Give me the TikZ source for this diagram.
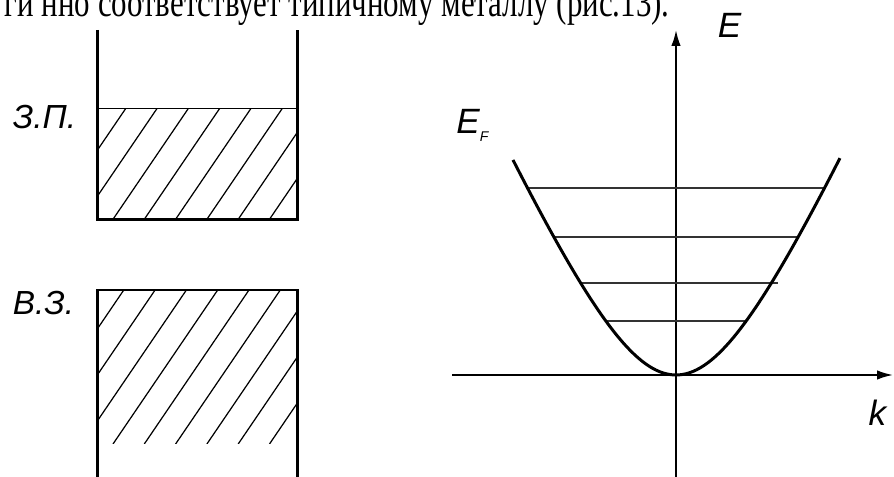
\documentclass[tikz,border=0pt]{standalone}
\usepackage{fontspec}
\setmainfont{Liberation Serif}
\setsansfont{Liberation Sans}
\usetikzlibrary{arrows.meta,calc}

\begin{document}
\begin{tikzpicture}[
    band/.style={line width=1.6pt},
    hatch/.style={line width=0.7pt},
    lvl/.style={line width=0.8pt,black!80},
    axis/.style={line width=1.1pt,-{Latex[length=0.32cm,width=0.19cm]}},
    lbl/.style={font=\fontsize{19}{22}\selectfont\sffamily\itshape,inner sep=0pt}]
    \useasboundingbox (0,0) rectangle (17.88,9.54);
    % line of text above, cut by the page edge
    \node[anchor=base east,inner sep=0pt,font=\fontsize{17.6}{20}\selectfont] (txt) at (13.4,9.2)
      {\scalebox{1}[1.35]{ги нно соответствует типичному металлу (рис.13).}};

    % conduction band
    \begin{scope}
      \clip (1.954,5.154) rectangle (5.954,7.366);
      \foreach \i in {-3,...,5}
        \draw[hatch] (2.26+0.626*\i,5.154) -- ++(1.504,2.212);
    \end{scope}
    \draw[line width=0.8pt] (1.954,7.366) -- (5.954,7.366);
    \draw[band] (1.954,8.94) -- (1.954,5.154) -- (5.954,5.154) -- (5.954,8.94);
    \node[lbl] (cb) at (0.89,7.19) {З.П.};

    % valence band
    \begin{scope}
      \clip (1.954,0.66) rectangle (5.954,3.74);
      \foreach \i in {-4,...,5}
        \draw[hatch] (2.26+0.626*\i,0.66) -- ++(2.094,3.08);
    \end{scope}
    \draw[band] (1.954,-0.1) -- (1.954,3.74) -- (5.954,3.74) -- (5.954,-0.1);
    \node[lbl] (vb) at (0.87,3.47) {В.З.};

    % E(k)
    \coordinate (O) at (13.52,2.04);
    \draw[axis] (9.04,2.04) -- (17.86,2.04);
    \draw[axis] (13.52,-0.1) -- (13.52,8.94);
    \foreach \e/\l/\r in {3.74/-2.94/2.96, 2.76/-2.42/2.44, 1.84/-1.92/2.04, 1.08/-1.38/1.42}
      \draw[lvl] ($(O)+(\l,\e)$) -- ($(O)+(\r,\e)$);
    \draw[line width=1.7pt] plot[domain=-3.26:3.28,samples=90]
      ({13.52+\x},{2.04+sqrt(16+4.977*(\x)^2)-4});
    \node[lbl,font=\fontsize{20}{22}\selectfont\sffamily\itshape] (E) at (14.59,9.04) {E};
    \node[lbl,font=\fontsize{20}{22}\selectfont\sffamily\itshape] (k) at (17.55,1.29) {k};
    \node[lbl,font=\fontsize{20}{22}\selectfont\sffamily\itshape,anchor=base west] (EF) at (9.12,6.86)
      {E\raisebox{-4pt}{\fontsize{8}{8}\selectfont F}};
\end{tikzpicture}
\end{document}
